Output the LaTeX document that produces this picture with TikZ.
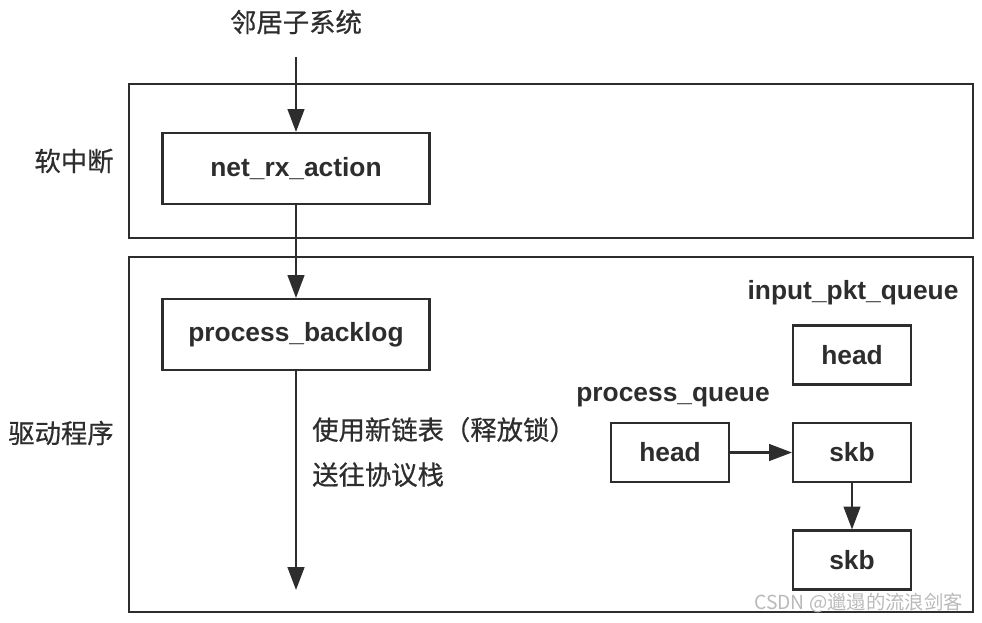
\documentclass[tikz,border=0pt]{standalone}
\usepackage{fontspec}
\setmainfont{Liberation Sans}
\newfontfamily\cjk[FakeBold=0.6]{Noto Sans CJK SC}
\newfontfamily\cjkmark{Noto Sans CJK SC}
\usetikzlibrary{arrows.meta}
\definecolor{linegray}{RGB}{45,45,45}
\definecolor{markgray}{RGB}{185,185,185}

\begin{document}
\begin{tikzpicture}[x=0.02cm, y=-0.02cm,
    every node/.style={text=linegray},
    frame/.style={draw=linegray, line width=1.2pt, inner sep=0pt},
    blk/.style={draw=linegray, line width=1.2pt, inner sep=0pt,
        font=\fontsize{15pt}{18pt}\selectfont\bfseries},
    lbl/.style={font=\fontsize{15pt}{18pt}\selectfont\bfseries},
    zh/.style={font=\cjk\fontsize{15pt}{25.6pt}\selectfont},
    flow/.style={-{Triangle[length=13pt, width=9.5pt]}, draw=linegray, line width=1.2pt}]
    \useasboundingbox (0,0) rectangle (982,622);
    % outer frames
    \node[frame, minimum width=16.88cm, minimum height=3.08cm] (soft) at (551,161) {};
    \node[frame, minimum width=16.88cm, minimum height=7.1cm] (drv) at (551,434.5) {};
    \node[zh] (softlbl) at (74,161) {软中断};
    \node[zh] (drvlbl) at (61,433) {驱动程序};
    % main path
    \node[zh] (neigh) at (296,22) {邻居子系统};
    \coordinate (src) at (296,57);
    \node[blk, minimum width=5.34cm, minimum height=1.42cm] (netrx) at (296,168.5) {net\_rx\_action};
    \node[blk, minimum width=5.34cm, minimum height=1.42cm] (backlog) at (296,334.5) {process\_backlog};
    \coordinate (stack) at (296,590);
    \node[zh, anchor=west, align=left] (note) at (306,452) {使用新链表（释放锁）\\送往协议栈};
    \draw[flow] (src) -- (netrx);
    \draw[flow] (netrx) -- (backlog);
    \draw[flow] (backlog) -- (stack);
    % queues
    \node[lbl] (inq) at (853,293) {input\_pkt\_queue};
    \node[blk, minimum width=2.36cm, minimum height=1.18cm] (inhead) at (852,355) {head};
    \node[lbl] (procq) at (673,397) {process\_queue};
    \node[blk, minimum width=2.36cm, minimum height=1.18cm] (prhead) at (670,452.5) {head};
    \node[blk, minimum width=2.36cm, minimum height=1.18cm] (skba) at (852,452.5) {skb};
    \node[blk, minimum width=2.36cm, minimum height=1.18cm] (skbb) at (852,560) {skb};
    \draw[flow] (prhead) -- (skba);
    \draw[flow] (skba) -- (skbb);
    \node[font=\cjkmark\fontsize{11pt}{13pt}\selectfont, text=markgray, anchor=east] (mark) at (969,603) {CSDN @邋遢的流浪剑客};
\end{tikzpicture}
\end{document}
